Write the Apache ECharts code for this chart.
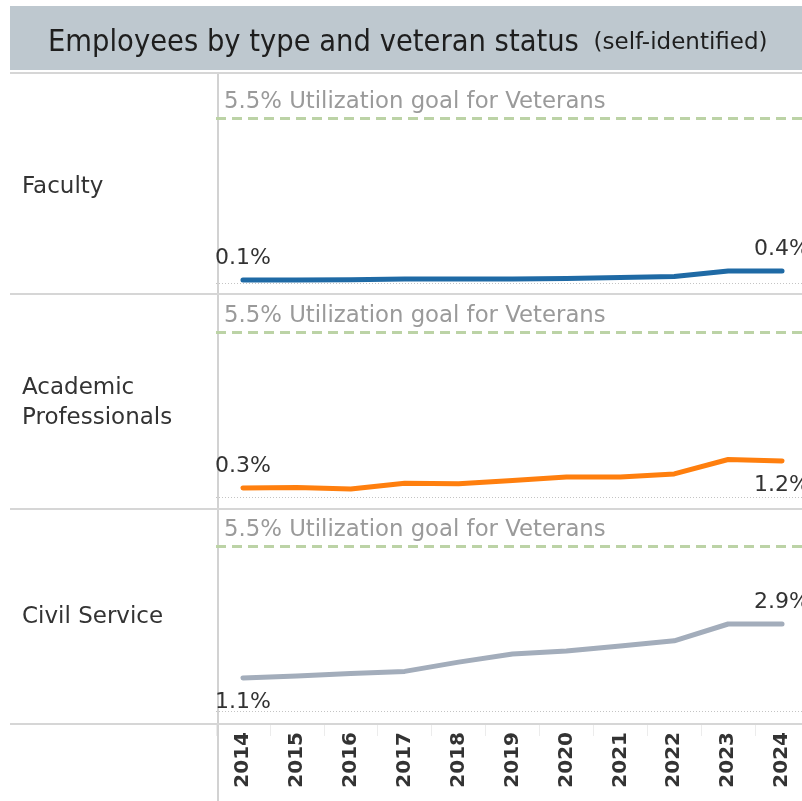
<!DOCTYPE html>
<html>
<head>
<meta charset="utf-8">
<style>
  html, body { margin: 0; padding: 0; background: #fff; }
  #chart { width: 802px; height: 801px; }
</style>
<script src="https://cdn.jsdelivr.net/npm/echarts@6/dist/echarts.min.js"></script>
</head>
<body>
<div id="chart"></div>
<script>
// data (percent of employees, self-identified veterans)
const years = ['2014', '2015', '2016', '2017', '2018', '2019', '2020', '2021', '2022', '2023', '2024'];
const groups = ['Faculty', 'Academic\nProfessionals', 'Civil Service'];
const faculty = [0.1, 0.1, 0.11, 0.13, 0.13, 0.13, 0.15, 0.18, 0.22, 0.4, 0.4];
const academic = [0.3, 0.32, 0.27, 0.46, 0.44, 0.55, 0.67, 0.67, 0.77, 1.25, 1.2];
const civil = [1.1, 1.17, 1.25, 1.32, 1.63, 1.9, 2.0, 2.17, 2.34, 2.9, 2.9];
const goal = 5.5;
const goalText = '5.5% Utilization goal for Veterans';

const chart = echarts.init(document.getElementById('chart'));

const FONT = 'DejaVu Sans';
const panelTops = [73, 294, 509];   // separators
const zeroY = [283, 497, 711];      // where 0% sits in each panel
const plotH = 210;                  // 7% * 30px

// per series look + which side the first/last labels go
const seriesCfg = [
  { data: faculty, color: '#1f6aa5', first: 'top', last: 'top' },
  { data: academic, color: '#ff7f0e', first: 'top', last: 'bottom' },
  { data: civil, color: '#a3adbb', first: 'bottom', last: 'top' }
];

function fmtPct(v) {
  return v.toFixed(1) + '%';
}

// plot area runs past the right edge, the picture is cropped there
const grids = zeroY.map(z => ({ left: 216, width: 593, top: z - plotH, height: plotH, outerBoundsMode: 'none' }));
grids.push({ left: 216, width: 593, top: 724, height: 1, outerBoundsMode: 'none' });

const xAxes = grids.map((g, i) => ({
  type: 'category',
  gridIndex: i,
  data: years,
  boundaryGap: true,
  axisLine: { show: false },
  axisTick: i === 3 ? { show: true, length: 11, lineStyle: { color: '#ececec', width: 1 } } : { show: false },
  axisLabel: i === 3 ? {
    show: true,
    rotate: 90,
    margin: 7,
    color: '#333',
    fontFamily: FONT,
    fontWeight: 'bold',
    fontSize: 20
  } : { show: false },
  splitLine: { show: false }
}));

const yAxes = grids.map((g, i) => ({
  type: 'value',
  gridIndex: i,
  min: 0,
  max: 7,
  show: false
}));

const series = seriesCfg.map((s, i) => ({
  type: 'line',
  xAxisIndex: i,
  yAxisIndex: i,
  symbol: 'circle',
  symbolSize: 1,
  showSymbol: true,
  lineStyle: { color: s.color, width: 5, cap: 'round', join: 'round' },
  itemStyle: { color: s.color },
  data: s.data.map((v, j) => {
    const last = j === s.data.length - 1;
    if (j !== 0 && !last) return v;
    const pos = last ? s.last : s.first;
    return {
      value: v,
      label: {
        show: true,
        position: pos,
        distance: pos === 'top' ? 10 : 13,
        formatter: p => fmtPct(p.value),
        color: '#333',
        fontFamily: FONT,
        fontSize: 22
      }
    };
  }),
  markLine: {
    silent: true,
    symbol: 'none',
    animation: false,
    data: [
      {
        yAxis: goal,
        lineStyle: { color: '#bcd3a6', type: [10, 6], width: 3 },
        label: {
          show: true,
          position: 'insideStartTop',
          formatter: goalText,
          color: '#9a9a9a',
          fontFamily: FONT,
          fontSize: 22.8,
          distance: [8, 4]
        }
      },
      {
        yAxis: 0,
        lineStyle: { color: '#c4c4c4', type: [1, 2], width: 1 },
        label: { show: false }
      }
    ]
  },
  z: 3
}));

// frame, title bar, row headers
const graphic = [
  { type: 'rect', shape: { x: 10, y: 6, width: 792, height: 64 }, style: { fill: '#bec8cf' }, silent: true },
  {
    type: 'text', x: 48, y: 43,
    style: {
      text: '{a|Employees by type and veteran status}{b|  (self-identified)}',
      verticalAlign: 'middle',
      rich: {
        a: { fontFamily: 'DejaVu Sans Condensed', fontSize: 30.5, fill: '#1e1e1e' },
        b: { fontFamily: FONT, fontSize: 23, fill: '#1e1e1e' }
      }
    }
  },
  { type: 'line', shape: { x1: 218, y1: 73, x2: 218, y2: 801 }, style: { stroke: '#d2d2d2', lineWidth: 2 } }
];
panelTops.concat([724]).forEach(y => {
  graphic.push({ type: 'line', shape: { x1: 10, y1: y, x2: 802, y2: y }, style: { stroke: '#d6d6d6', lineWidth: 2 } });
});
const labelY = [187, 403, 617];
groups.forEach((g, i) => {
  graphic.push({
    type: 'text', x: 22, y: labelY[i],
    style: { text: g, fontFamily: FONT, fontSize: 23, fill: '#333', verticalAlign: 'middle', lineHeight: 30 }
  });
});

chart.setOption({
  animation: false,
  backgroundColor: '#fff',
  grid: grids,
  xAxis: xAxes,
  yAxis: yAxes,
  series: series,
  graphic: graphic
});
</script>
</body>
</html>
